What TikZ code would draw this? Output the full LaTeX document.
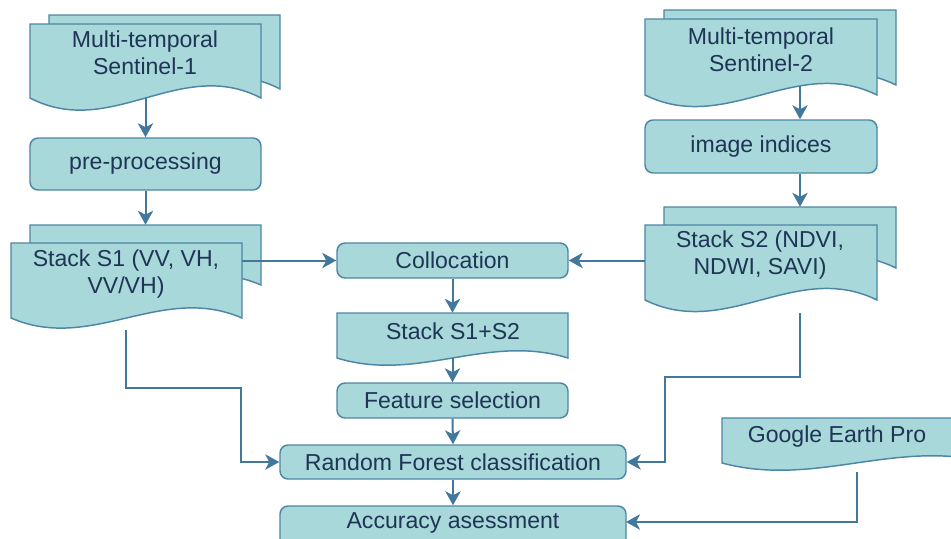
\documentclass[tikz,border=0pt]{standalone}
\usepackage{fontspec}
\setmainfont{Liberation Sans}
\usetikzlibrary{arrows.meta,fit,calc}
\definecolor{fillc}{HTML}{A8D8DA}
\definecolor{linec}{HTML}{4D86A6}
\definecolor{arrc}{HTML}{41789C}
\definecolor{txtc}{HTML}{1E3555}
\newcommand\docshape[5]{\draw[docst] (#1,#2) -- (#3,#2) -- (#3,#4) .. controls ({#3-0.35*(#3-#1)},{#4-#5}) and ({#1+0.35*(#3-#1)},{#4+#5}) .. (#1,#4) -- cycle;}
\begin{document}
\begin{tikzpicture}[x=0.75pt,y=-0.75pt,
 docst/.style={draw=linec,fill=fillc,line width=1.1pt},
 rbox/.style={draw=linec,fill=fillc,line width=1.1pt,rounded corners=6pt,inner sep=0pt},
 anchorbox/.style={inner sep=0pt,draw=none},
 txt/.style={font=\fontsize{17.3}{20}\selectfont,text=txtc,align=center,inner sep=0pt},
 arr/.style={draw=arrc,line width=1.5pt,-{Stealth[length=10.5pt,width=11.5pt,inset=3pt]}}]
\useasboundingbox (0,0) rectangle (951,539);
% Sentinel-1
\docshape{49}{15}{280}{89}{42}
\docshape{30}{24}{261}{98}{42}
\node[anchorbox,fit={(30,15)(280,98)}] (s1) {};
\node[txt] (s1t) at (145,52.5) {Multi-temporal\\Sentinel-1};
\node[rbox,fit={(30,138)(261,190)}] (pre) {};
\node[txt] (pret) at (145.5,164) {pre-processing};
% Stack S1
\docshape{30}{225}{261}{285}{35}
\docshape{11}{243}{242}{318}{35}
\node[anchorbox,fit={(11,225)(280,330)}] (st1) {};
\node[txt] (st1t) at (126,274) {Stack S1 (VV, VH,\\VV/VH)};
% middle column
\node[rbox,fit={(337,243)(568,278)}] (col) {};
\node[txt] (colt) at (452.5,260.5) {Collocation};
\docshape{337}{313}{568}{358}{25}
\node[anchorbox,fit={(337,313)(568,358)}] (st12) {};
\node[txt] (st12t) at (453,331) {Stack S1+S2};
\node[rbox,fit={(337,383)(568,418)}] (feat) {};
\node[txt] (featt) at (452.5,400.5) {Feature selection};
\node[rbox,fit={(280,445)(626,479)}] (rf) {};
\node[txt] (rft) at (453,462) {Random Forest classification};
\node[rbox,fit={(280,506)(626,547)}] (acc) {};
\node[txt] (acct) at (453,523) {Accuracy asessment};
% Sentinel-2
\docshape{664}{10}{896}{85}{40}
\docshape{645}{19}{877}{95}{40}
\node[anchorbox,fit={(645,10)(896,86)}] (s2) {};
\node[txt] (s2t) at (761,50) {Multi-temporal\\Sentinel-2};
\node[rbox,fit={(645,120)(877,173)}] (idx) {};
\node[txt] (idxt) at (761,146.5) {image indices};
\docshape{664}{207}{896}{268}{40}
\docshape{645}{225}{877}{300}{40}
\node[anchorbox,fit={(645,207)(896,313)}] (st2) {};
\node[txt] (st2t) at (760,255) {Stack S2 (NDVI,\\NDWI, SAVI)};
% Google Earth Pro
\docshape{722}{418}{990}{463}{25}
\node[anchorbox,fit={(722,418)(990,472)}] (gep) {};
\node[txt] (gept) at (837,436.5) {Google Earth Pro};
% connectors
\coordinate (s2x) at (800,0);
\coordinate (st1e) at (242,260.5);
\coordinate (st2w) at (645,260.5);
\coordinate (st1b) at (126,330);
\coordinate (gepb) at (857,472);
\coordinate (accin) at (626,522);
\draw[arr] (pre.north |- s1.south) -- (pre.north);
\draw[arr] (pre.south) -- (pre.south |- st1.north);
\draw[arr] (st1e) -- (col.west);
\draw[arr] (st2w) -- (col.east);
\draw[arr] (col.south) -- (st12.north);
\draw[arr] (st12.south) -- (feat.north);
\draw[arr] (feat.south) -- (rf.north);
\draw[arr] (rf.south) -- (acc.north);
\draw[arr] (s2.south -| s2x) -- (idx.north -| s2x);
\draw[arr] (idx.south -| s2x) -- (st2.north -| s2x);
\draw[arr] (st1b) -- ++(0,58) -| ($(rf.west)+(-38,0)$) -- (rf.west);
\draw[arr] (st2.south -| s2x) -- ++(0,64) -| ($(rf.east)+(38,0)$) -- (rf.east);
\draw[arr] (gepb) |- (accin);
\end{tikzpicture}
\end{document}
